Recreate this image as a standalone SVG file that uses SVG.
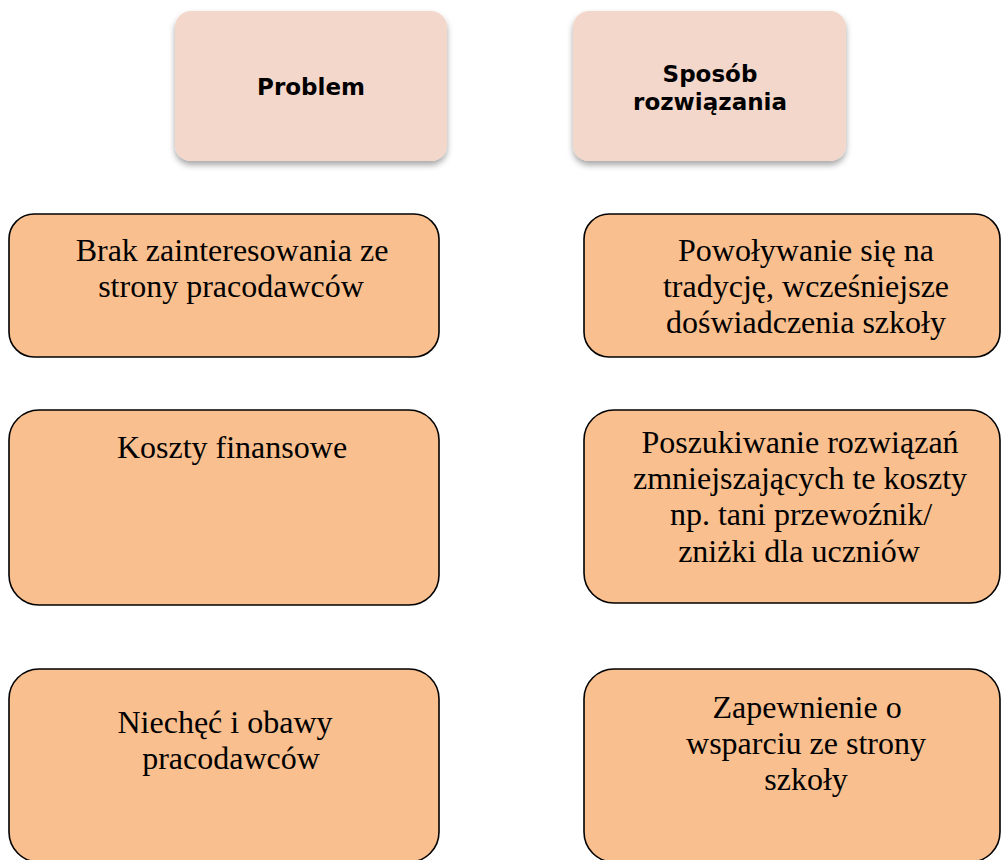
<svg xmlns="http://www.w3.org/2000/svg" width="1001" height="860" viewBox="0 0 1001 860">
<style>
.hdr{fill:#F4D7CB;}
.box{fill:#F9BF8E;stroke:#000;stroke-width:1.6;}
.ht{font-family:"DejaVu Sans",Verdana,sans-serif;font-weight:bold;font-size:23px;fill:#000;text-anchor:middle;}
.bt{font-family:"Liberation Serif","Times New Roman",serif;font-size:32px;fill:#000;text-anchor:middle;}
</style>
<defs>
<filter id="sh" x="-10%" y="-10%" width="120%" height="130%">
<feDropShadow dx="0" dy="4" stdDeviation="3" flood-color="#000" flood-opacity="0.35"/>
</filter>
</defs>
<rect width="1001" height="860" fill="#fff"/>
<g id="connectors"></g>
<g id="h1">
<rect class="hdr" x="175" y="11" width="272" height="150" rx="16" filter="url(#sh)"/>
<text class="ht" x="311" y="95">Problem</text>
</g>
<g id="h2">
<rect class="hdr" x="573" y="11" width="273" height="150" rx="16" filter="url(#sh)"/>
<text class="ht" x="710" y="82">Sposób</text>
<text class="ht" x="710" y="110">rozwiązania</text>
</g>
<g id="p1">
<rect class="box" x="9" y="214" width="430" height="143" rx="25"/>
<text class="bt" x="232" y="261">Brak zainteresowania ze</text>
<text class="bt" x="231" y="297">strony pracodawców</text>
</g>
<g id="s1">
<rect class="box" x="584" y="214" width="416" height="143" rx="25"/>
<text class="bt" x="806" y="261">Powoływanie się na</text>
<text class="bt" x="806" y="297">tradycję, wcześniejsze</text>
<text class="bt" x="806" y="333">doświadczenia szkoły</text>
</g>
<g id="p2">
<rect class="box" x="9" y="410" width="430" height="195" rx="30"/>
<text class="bt" x="232" y="458">Koszty finansowe</text>
</g>
<g id="s2">
<rect class="box" x="584" y="410" width="416" height="193" rx="30"/>
<text class="bt" x="800" y="453">Poszukiwanie rozwiązań</text>
<text class="bt" x="800" y="489">zmniejszających te koszty</text>
<text class="bt" x="801" y="525">np. tani przewoźnik/</text>
<text class="bt" x="799" y="562">zniżki dla uczniów</text>
</g>
<g id="p3">
<rect class="box" x="9" y="669" width="430" height="193" rx="30"/>
<text class="bt" x="225" y="733">Niechęć i obawy</text>
<text class="bt" x="231" y="769">pracodawców</text>
</g>
<g id="s3">
<rect class="box" x="584" y="669" width="416" height="193" rx="30"/>
<text class="bt" x="807" y="718">Zapewnienie o</text>
<text class="bt" x="806" y="754">wsparciu ze strony</text>
<text class="bt" x="806" y="790">szkoły</text>
</g>
</svg>
